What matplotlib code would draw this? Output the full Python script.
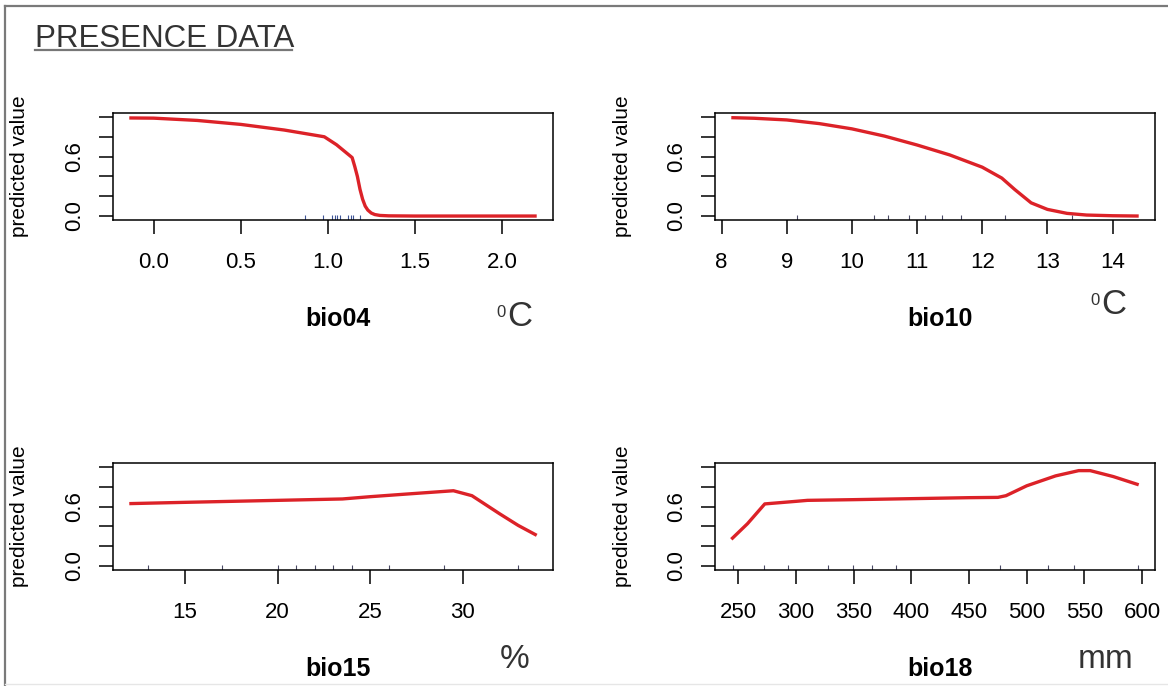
import numpy as np
import matplotlib
matplotlib.use("Agg")
import matplotlib.pyplot as plt
from matplotlib.lines import Line2D

plt.rcParams["font.family"] = ["Liberation Sans", "DejaVu Sans"]

W, H = 1168, 686

# ── data ────────────────────────────────────────────────────────────────────
bio04_x = [-0.14, 0.0, 0.25, 0.5, 0.75, 0.98, 1.05, 1.14, 1.155, 1.17, 1.185,
           1.2, 1.215, 1.23, 1.25, 1.27, 1.3, 1.35, 1.5, 2.2]
bio04_y = [0.99, 0.988, 0.965, 0.925, 0.868, 0.80, 0.72, 0.59, 0.50, 0.40, 0.27,
           0.17, 0.10, 0.06, 0.03, 0.015, 0.006, 0.002, 0.0, 0.0]
bio04_rug = [0.869, 0.974, 1.022, 1.041, 1.054, 1.069, 1.117, 1.131, 1.145, 1.183]

bio10_x = [8.15, 8.5, 9.0, 9.5, 10.0, 10.5, 11.0, 11.5, 12.0, 12.3, 12.5, 12.75,
           13.0, 13.3, 13.6, 14.0, 14.4]
bio10_y = [0.993, 0.987, 0.97, 0.933, 0.88, 0.807, 0.717, 0.617, 0.493, 0.383,
           0.267, 0.133, 0.067, 0.027, 0.01, 0.003, 0.0]
bio10_rug = [9.16, 10.34, 10.55, 10.87, 11.12, 11.38, 11.67, 12.35, 13.37]

bio15_x = [11.98, 15, 20, 23.5, 25, 27, 29.5, 30.5, 32, 33, 34.0]
bio15_y = [0.63, 0.643, 0.663, 0.677, 0.70, 0.727, 0.76, 0.71, 0.527, 0.41, 0.31]
bio15_rug = [13, 17, 20, 21, 22, 23, 24, 26, 29, 33]

bio18_x = [244, 258, 273, 300, 310, 350, 400, 450, 475, 482, 500, 525, 545, 555,
           575, 597]
bio18_y = [0.27, 0.427, 0.627, 0.653, 0.663, 0.67, 0.68, 0.69, 0.693, 0.71, 0.81,
           0.91, 0.963, 0.963, 0.903, 0.82]
bio18_rug = [245.7, 272.2, 293.3, 327.9, 349.5, 366.3, 386.4, 476.4, 518.2, 541.3, 596]

panels = [
    ("bio04", bio04_x, bio04_y, bio04_rug, [0.0, 0.5, 1.0, 1.5, 2.0], "C"),
    ("bio10", bio10_x, bio10_y, bio10_rug, [8, 9, 10, 11, 12, 13, 14], "C"),
    ("bio15", bio15_x, bio15_y, bio15_rug, [15, 20, 25, 30], "%"),
    ("bio18", bio18_x, bio18_y, bio18_rug, [250, 300, 350, 400, 450, 500, 550, 600], "mm"),
]
ytick_vals = [0.0, 0.2, 0.4, 0.6, 0.8, 1.0]
ytick_txt = ["0.0", "", "", "0.6", "", ""]


def fx(px):
    return px / W


def fy(py):
    return 1 - py / H


fig = plt.figure(figsize=(W / 100, H / 100), dpi=100)

# frame and title
fig.add_artist(Line2D([fx(5), fx(5)], [fy(6), fy(686)], color="#7a7a7a", lw=1.6))
fig.add_artist(Line2D([fx(5), fx(1168)], [fy(6), fy(6)], color="#7a7a7a", lw=1.6))
fig.add_artist(Line2D([fx(5), fx(1168)], [fy(684), fy(684)], color="#e6e6e6", lw=1.0))
fig.text(fx(35), fy(47), "PRESENCE DATA", fontsize=22.5, color="#333333", va="baseline")
fig.add_artist(Line2D([fx(35), fx(292)], [fy(50), fy(50)], color="#777777", lw=1.6))

lefts = [113, 715, 113, 715]
tops = [113, 113, 463, 463]
bw, bh = 440, 107
unit_pos = [(496, 326), (1090, 314), (500, 668), (1078, 668)]

for i, (name, xs, ys, rug, xt, unit) in enumerate(panels):
    l, t = lefts[i], tops[i]
    ax = fig.add_axes([fx(l), fy(t + bh), bw / W, bh / H])
    lo, hi = min(xs), max(xs)
    pad = 0.04 * (hi - lo)
    ax.set_xlim(lo - pad, hi + pad)
    ax.set_ylim(-0.04, 1.04)
    ax.plot(xs, ys, color="#dc2228", lw=2.4, solid_capstyle="butt")
    ax.vlines(rug, 0, 0.045, transform=ax.get_xaxis_transform(),
              color="#3f5597" if i == 0 else "#4a4a66", lw=0.8)
    for s in ax.spines.values():
        s.set_linewidth(1.1)
    ax.set_xticks(xt)
    ax.set_xticklabels([f"{v:.1f}" if i == 0 else f"{v:g}" for v in xt])
    ax.set_yticks(ytick_vals)
    ax.set_yticklabels(ytick_txt, rotation=90, va="center")
    ax.tick_params(axis="both", direction="out", length=10, width=1.1,
                   labelsize=16, colors="black")
    ax.tick_params(axis="x", pad=13)
    ax.tick_params(axis="y", pad=10)

    fig.text(fx(l - 93), fy(t + bh / 2), "predicted value", rotation=90,
             fontsize=15, ha="center", va="center")
    fig.text(fx(l + bw / 2 + 5), fy(t + 213), name, fontsize=18, fontweight="bold",
             ha="center", va="baseline")
    ux, uy = unit_pos[i]
    if unit == "C":
        fig.text(fx(ux), fy(uy - 9), "0", fontsize=12, color="#333333", va="baseline")
        fig.text(fx(ux + 11), fy(uy), "C", fontsize=25, color="#333333", va="baseline")
    else:
        fig.text(fx(ux), fy(uy), unit, fontsize=24, color="#333333", va="baseline")

fig.savefig("out.png", dpi=100)
